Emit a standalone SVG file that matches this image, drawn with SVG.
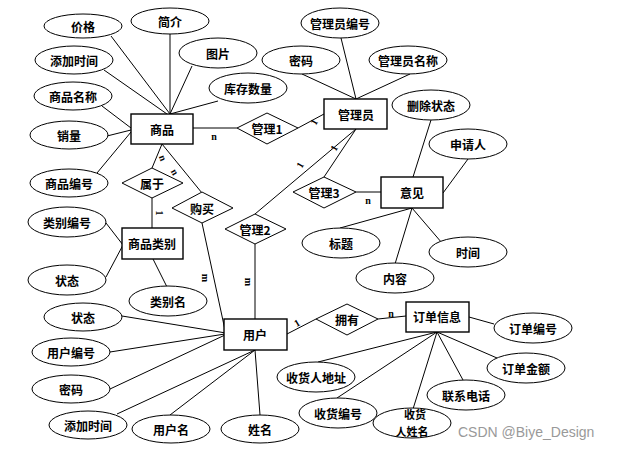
<svg xmlns="http://www.w3.org/2000/svg" width="627" height="452" viewBox="0 0 627 452">
<style>
.e{fill:#fff;stroke:#000;stroke-width:1}
.r{fill:#fff;stroke:#000;stroke-width:1.4}
.d{fill:#fff;stroke:#000;stroke-width:1}
.t{font-family:"Noto Sans CJK SC","Liberation Serif",serif;font-size:12px;font-weight:bold;text-anchor:middle;dominant-baseline:central;fill:#000}
.s{font-size:11px}
.c line{stroke:#000;stroke-width:1}
.l{font-family:"Liberation Serif",serif;font-size:10px;font-weight:bold;text-anchor:middle;dominant-baseline:central;fill:#000}
.w{font-family:"Liberation Sans",sans-serif;font-size:14px;fill:#999}
</style>
<rect width="627" height="452" fill="#fff"/>
<g class="c" id="connectors">
<line x1="111" y1="36" x2="170" y2="114"/>
<line x1="170" y1="34" x2="170" y2="114"/>
<line x1="192" y1="66" x2="170" y2="114"/>
<line x1="218" y1="101" x2="170" y2="114"/>
<line x1="104" y1="70" x2="167" y2="114"/>
<line x1="102" y1="106" x2="131" y2="128"/>
<line x1="107" y1="136" x2="131" y2="130"/>
<line x1="97" y1="173" x2="131" y2="132"/>
<line x1="193" y1="128" x2="237" y2="128"/>
<line x1="298" y1="128" x2="324" y2="114"/>
<line x1="341" y1="38" x2="356" y2="99"/>
<line x1="302" y1="74" x2="356" y2="99"/>
<line x1="410" y1="74" x2="356" y2="99"/>
<line x1="356" y1="129" x2="255" y2="214"/>
<line x1="356" y1="129" x2="324" y2="177"/>
<line x1="356" y1="192" x2="381" y2="192"/>
<line x1="431" y1="120" x2="413" y2="177"/>
<line x1="468" y1="159" x2="443" y2="193"/>
<line x1="442" y1="243" x2="412" y2="208"/>
<line x1="395" y1="264" x2="412" y2="208"/>
<line x1="340" y1="228" x2="412" y2="208"/>
<line x1="255" y1="244" x2="255" y2="319"/>
<line x1="162" y1="144" x2="202" y2="193"/>
<line x1="202" y1="223" x2="225" y2="330"/>
<line x1="162" y1="144" x2="152" y2="168"/>
<line x1="152" y1="198" x2="152" y2="228"/>
<line x1="106" y1="223" x2="123" y2="245"/>
<line x1="106" y1="277" x2="123" y2="245"/>
<line x1="153" y1="259" x2="167" y2="287"/>
<line x1="122" y1="316" x2="226" y2="333"/>
<line x1="110" y1="352" x2="225" y2="334"/>
<line x1="110" y1="389" x2="225" y2="335"/>
<line x1="117" y1="414" x2="255" y2="350"/>
<line x1="170" y1="415" x2="255" y2="350"/>
<line x1="260" y1="415" x2="255" y2="350"/>
<line x1="287" y1="334" x2="316" y2="319"/>
<line x1="378" y1="319" x2="406" y2="316"/>
<line x1="469" y1="317" x2="494" y2="324"/>
<line x1="318" y1="362" x2="437" y2="332"/>
<line x1="337" y1="398" x2="437" y2="332"/>
<line x1="413" y1="409" x2="437" y2="332"/>
<line x1="463" y1="380" x2="437" y2="332"/>
<line x1="497" y1="358" x2="437" y2="332"/>
<text class="l" x="214" y="136">n</text>
<text class="l" x="314" y="122" transform="rotate(-60 314 122)">1</text>
<text class="l" x="300" y="165" transform="rotate(-60 300 165)">1</text>
<text class="l" x="334" y="148" transform="rotate(-60 334 148)">1</text>
<text class="l" x="368" y="200">n</text>
<text class="l" x="248" y="282" transform="rotate(90 248 282)">m</text>
<text class="l" x="175" y="172" transform="rotate(60 175 172)">n</text>
<text class="l" x="205" y="278" transform="rotate(90 205 278)">m</text>
<text class="l" x="163" y="158" transform="rotate(70 163 158)">n</text>
<text class="l" x="159" y="213" transform="rotate(90 159 213)">1</text>
<text class="l" x="297" y="323" transform="rotate(-30 297 323)">1</text>
<text class="l" x="391" y="313">n</text>
</g>
<g id="n_jiage"><ellipse class="e" cx="83" cy="26" rx="39" ry="12"/><text class="t" x="83" y="26">价格</text></g>
<g id="n_jianjie"><ellipse class="e" cx="170" cy="21" rx="39" ry="13"/><text class="t" x="170" y="21">简介</text></g>
<g id="n_tianjia1"><ellipse class="e" cx="74" cy="60" rx="39" ry="14"/><text class="t" x="74" y="60">添加时间</text></g>
<g id="n_spmc"><ellipse class="e" cx="73" cy="96" rx="39" ry="14"/><text class="t" x="73" y="96">商品名称</text></g>
<g id="n_xiaoliang"><ellipse class="e" cx="69" cy="135" rx="39" ry="14"/><text class="t" x="69" y="135">销量</text></g>
<g id="n_tupian"><ellipse class="e" cx="218" cy="53" rx="39" ry="15"/><text class="t" x="218" y="53">图片</text></g>
<g id="n_kucun"><ellipse class="e" cx="248" cy="88" rx="39" ry="15"/><text class="t" x="248" y="88">库存数量</text></g>
<g id="n_shangpin"><rect class="r" x="131" y="114" width="62" height="30"/><text class="t" x="162" y="129">商品</text></g>
<g id="n_glybh"><ellipse class="e" cx="340" cy="23" rx="39" ry="15"/><text class="t" x="340" y="23">管理员编号</text></g>
<g id="n_mima1"><ellipse class="e" cx="301" cy="60" rx="39" ry="14"/><text class="t" x="301" y="60">密码</text></g>
<g id="n_glymc"><ellipse class="e" cx="408" cy="60" rx="39" ry="14"/><text class="t" x="408" y="60">管理员名称</text></g>
<g id="n_guanliyuan"><rect class="r" x="324" y="99" width="63" height="30"/><text class="t" x="356" y="114">管理员</text></g>
<g id="n_guanli1"><polygon class="d" points="237,128 267,113 298,128 267,144"/><text class="t" x="267" y="128">管理1</text></g>
<g id="n_sczt"><ellipse class="e" cx="431" cy="105" rx="39" ry="15"/><text class="t" x="431" y="105">删除状态</text></g>
<g id="n_sqr"><ellipse class="e" cx="468" cy="144" rx="39" ry="15"/><text class="t" x="468" y="144">申请人</text></g>
<g id="n_yijian"><rect class="r" x="381" y="177" width="62" height="31"/><text class="t" x="412" y="192">意见</text></g>
<g id="n_shijian"><ellipse class="e" cx="468" cy="252" rx="39" ry="15"/><text class="t" x="468" y="252">时间</text></g>
<g id="n_guanli3"><polygon class="d" points="293,192 324,177 356,192 324,208"/><text class="t" x="324" y="192">管理3</text></g>
<g id="n_biaoti"><ellipse class="e" cx="341" cy="243" rx="39" ry="15"/><text class="t" x="341" y="243">标题</text></g>
<g id="n_neirong"><ellipse class="e" cx="395" cy="278" rx="39" ry="15"/><text class="t" x="395" y="278">内容</text></g>
<g id="n_guanli2"><polygon class="d" points="225,229 255,214 286,229 255,244"/><text class="t" x="255" y="229">管理2</text></g>
<g id="n_goumai"><polygon class="d" points="172,208 202,192 233,208 202,223"/><text class="t" x="202" y="208">购买</text></g>
<g id="n_shuyu"><polygon class="d" points="122,183 152,168 183,183 152,198"/><text class="t" x="152" y="183">属于</text></g>
<g id="n_spbh"><ellipse class="e" cx="69" cy="183" rx="39" ry="14"/><text class="t" x="69" y="183">商品编号</text></g>
<g id="n_lbbh"><ellipse class="e" cx="67" cy="222" rx="39" ry="15"/><text class="t" x="67" y="222">类别编号</text></g>
<g id="n_splb"><rect class="r" x="122" y="228" width="61" height="31"/><text class="t" x="152" y="243">商品类别</text></g>
<g id="n_zhuangtai1"><ellipse class="e" cx="67" cy="280" rx="39" ry="15"/><text class="t" x="67" y="280">状态</text></g>
<g id="n_lbm"><ellipse class="e" cx="168" cy="301" rx="39" ry="15"/><text class="t" x="168" y="301">类别名</text></g>
<g id="n_zhuangtai2"><ellipse class="e" cx="83" cy="317" rx="39" ry="14"/><text class="t" x="83" y="317">状态</text></g>
<g id="n_yhbh"><ellipse class="e" cx="71" cy="352" rx="39" ry="14"/><text class="t" x="71" y="352">用户编号</text></g>
<g id="n_mima2"><ellipse class="e" cx="71" cy="389" rx="39" ry="14"/><text class="t" x="71" y="389">密码</text></g>
<g id="n_tianjia2"><ellipse class="e" cx="88" cy="425" rx="39" ry="14"/><text class="t" x="88" y="425">添加时间</text></g>
<g id="n_yhm"><ellipse class="e" cx="171" cy="429" rx="39" ry="14"/><text class="t" x="171" y="429">用户名</text></g>
<g id="n_xingming"><ellipse class="e" cx="260" cy="429" rx="39" ry="14"/><text class="t" x="260" y="429">姓名</text></g>
<g id="n_yonghu"><rect class="r" x="224" y="319" width="63" height="31"/><text class="t" x="255" y="334">用户</text></g>
<g id="n_yongyou"><polygon class="d" points="316,319 347,304 378,319 347,335"/><text class="t" x="347" y="319">拥有</text></g>
<g id="n_ddxx"><rect class="r" x="406" y="302" width="63" height="30"/><text class="t" x="437" y="316">订单信息</text></g>
<g id="n_ddbh"><ellipse class="e" cx="533" cy="328" rx="39" ry="15"/><text class="t" x="533" y="328">订单编号</text></g>
<g id="n_ddje"><ellipse class="e" cx="526" cy="368" rx="39" ry="15"/><text class="t" x="526" y="368">订单金额</text></g>
<g id="n_shrdz"><ellipse class="e" cx="316" cy="377" rx="39" ry="15"/><text class="t" x="316" y="377">收货人地址</text></g>
<g id="n_lxdh"><ellipse class="e" cx="466" cy="395" rx="39" ry="15"/><text class="t" x="466" y="395">联系电话</text></g>
<g id="n_shbh"><ellipse class="e" cx="338" cy="413" rx="39" ry="15"/><text class="t" x="338" y="413">收货编号</text></g>
<g id="n_shrxm"><ellipse class="e" cx="412" cy="423" rx="39" ry="15"/><text class="t s" x="415" y="414">收货</text><text class="t s" x="412" y="431">人姓名</text></g>
<text class="w" x="458" y="437">CSDN @Biye_Design</text>
</svg>
